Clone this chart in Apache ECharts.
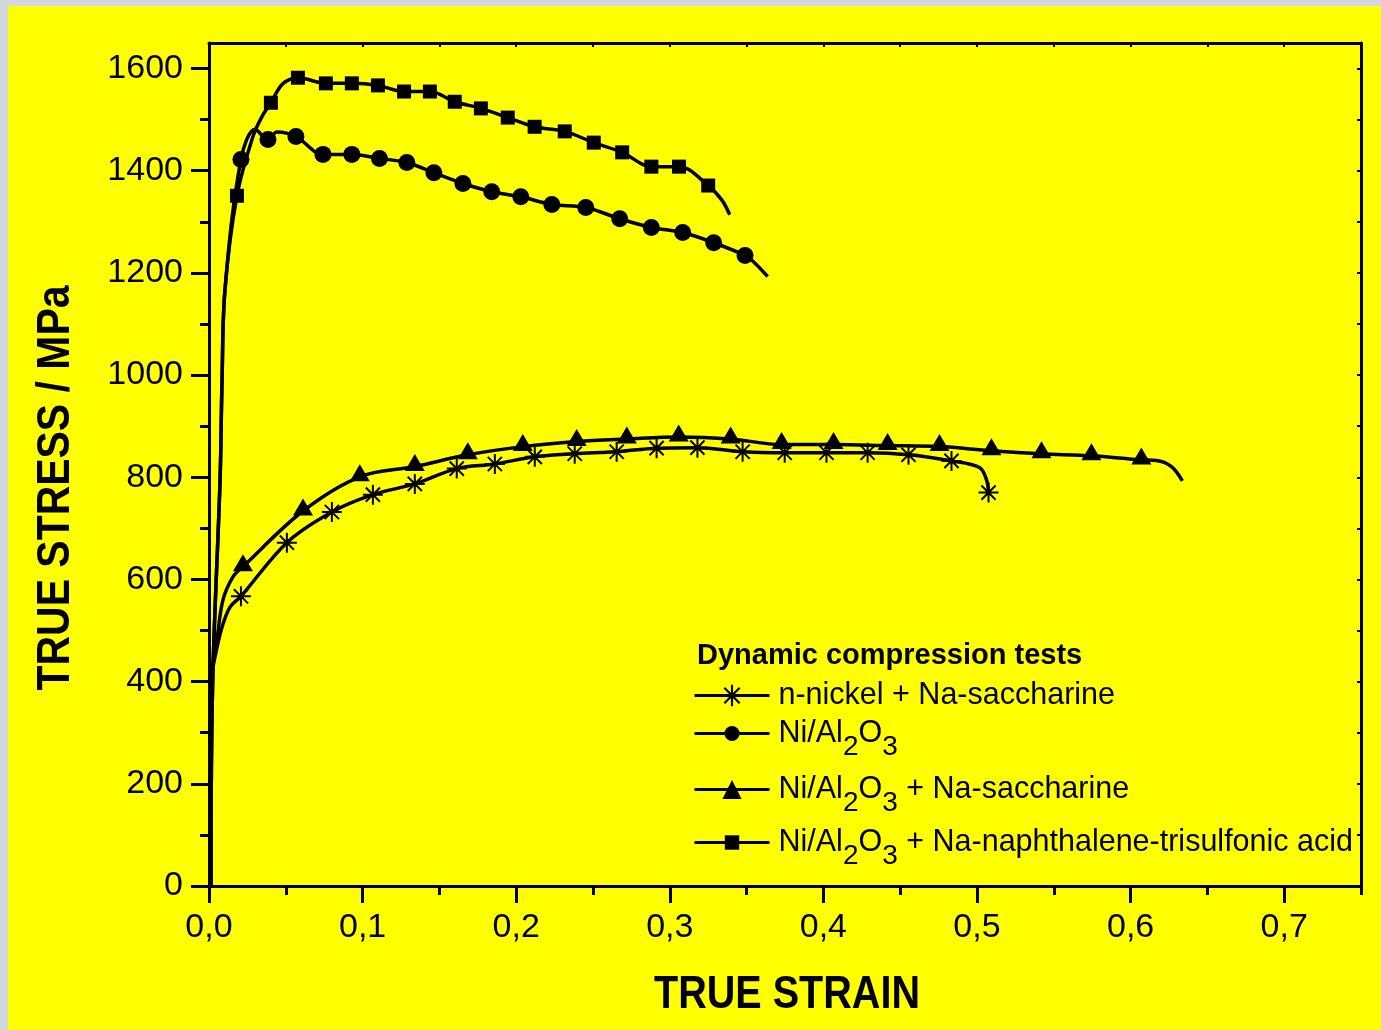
<!DOCTYPE html>
<html><head><meta charset="utf-8">
<style>
html,body{margin:0;padding:0;background:#d0d7df;width:1381px;height:1030px;overflow:hidden}
#c{position:absolute;left:8px;top:6px;width:1373px;height:1024px;background:#ffff00}
</style>
<script src="https://cdn.jsdelivr.net/npm/echarts@6/dist/echarts.min.js"></script>
</head><body><div id="c"></div>
<script>
// [strain, stress, marker(1) or curve-only(0)]
var nNickel = [
  [0.0012,0,0],[0.0013,200,0],[0.0015,403,0],[0.0039,448,0],[0.0085,507,0],[0.0137,546,0],
  [0.0208,567,1],[0.0507,672,1],[0.0800,732,1],[0.1067,766,1],[0.1340,787,1],[0.1613,817,1],
  [0.1861,826,1],[0.2121,840,1],[0.2381,846,1],[0.2654,850,1],[0.2914,857,1],[0.3180,858,1],
  [0.3474,850,1],[0.3748,848,1],[0.4020,848,1],[0.4288,848,1],[0.4554,844,1],[0.4834,832,1],
  [0.5016,819,0],[0.5062,795,0],[0.5075,770,1]
];
var niAl2O3 = [
  [0.0012,0,0],[0.0024,400,0],[0.0072,795,0],[0.0085,991,0],[0.0104,1167,0],
  [0.0208,1422,1],[0.0300,1481,0],[0.0384,1461,1],[0.0442,1476,0],[0.0566,1467,1],
  [0.0742,1432,1],[0.0930,1432,1],[0.1110,1424,1],[0.1288,1416,1],[0.1464,1396,1],
  [0.1653,1375,1],[0.1841,1359,1],[0.2030,1349,1],[0.2232,1334,1],[0.2453,1328,1],
  [0.2674,1306,1],[0.2880,1289,1],[0.3084,1279,1],[0.3286,1259,1],[0.3490,1234,1],
  [0.3551,1220,0],[0.3637,1193,0]
];
var niAl2O3Sacch = [
  [0.0012,0,0],[0.0013,200,0],[0.0015,403,0],[0.0052,482,0],[0.0091,560,0],[0.0156,605,0],
  [0.0221,625,1],[0.0612,734,1],[0.0982,801,1],[0.1340,821,1],[0.1685,844,1],[0.2043,860,1],
  [0.2394,870,1],[0.2720,875,1],[0.3058,879,1],[0.3396,875,1],[0.3728,864,1],[0.4066,864,1],
  [0.4418,862,1],[0.4756,860,1],[0.5094,852,1],[0.5420,846,1],[0.5745,842,1],[0.6070,834,1],
  [0.6168,833,0],[0.6266,821,0],[0.6337,793,0]
];
var niAl2O3Naph = [
  [0.0012,0,0],[0.0024,400,0],[0.0072,795,0],[0.0085,991,0],[0.0104,1167,0],
  [0.0182,1351,1],[0.0286,1467,0],[0.0345,1506,0],[0.0403,1533,1],[0.0480,1570,0],
  [0.0579,1582,1],[0.0761,1571,1],[0.0930,1571,1],[0.1100,1567,1],[0.1270,1555,1],
  [0.1438,1555,1],[0.1600,1535,1],[0.1770,1522,1],[0.1945,1504,1],[0.2120,1486,1],
  [0.2316,1477,1],[0.2505,1455,1],[0.2690,1436,1],[0.2880,1408,1],[0.3060,1408,1],
  [0.3250,1371,1],[0.3338,1343,0],[0.3390,1314,0]
];
var seriesNames = ['n-nickel + Na-saccharine','Ni/Al2O3','Ni/Al2O3 + Na-saccharine','Ni/Al2O3 + Na-naphthalene-trisulfonic acid'];
var xMajor = [0,0.1,0.2,0.3,0.4,0.5,0.6,0.7];
var xMinor = [0.05,0.15,0.25,0.35,0.45,0.55,0.65,0.75];
var yMajor = [0,200,400,600,800,1000,1200,1400,1600];
var yMinor = [100,300,500,700,900,1100,1300,1500];
var legendTitle = 'Dynamic compression tests';
var xTitle = 'TRUE STRAIN';
var yTitle = 'TRUE STRESS / MPa';

var FONT = 'Liberation Sans, Arial, Helvetica, sans-serif';
var ASTERISK = 'path://M45,0H55V100H45Z M0,45H100V55H0Z M11,18L18,11L89,82L82,89Z M82,11L89,18L18,89L11,82Z';
var symbols = [ASTERISK,'circle','triangle','rect'];
var symSizes = [20,17,[20,17],14];
var symOffsets = [[0,0],[0,0],[0,-4],[0,0]];
var curves = [nNickel, niAl2O3, niAl2O3Sacch, niAl2O3Naph];

function buildData(arr){
  return arr.map(function(p){
    return p[2] ? {value:[p[0],p[1]]} : {value:[p[0],p[1]], symbol:'none'};
  });
}

var series = curves.map(function(c,i){
  return {
    name: seriesNames[i], type:'line', xAxisIndex:0, yAxisIndex:0,
    data: buildData(c), smooth:0.35,
    symbol: symbols[i], symbolSize: symSizes[i], symbolOffset: symOffsets[i],
    showSymbol:true, showAllSymbol:true,
    lineStyle:{color:'#000', width:3.5},
    itemStyle:{color:'#000', borderWidth:0},
    emphasis:{disabled:true}, z: 3
  };
});

function legendLabel(name){
  if (name.indexOf('Al2O3') < 0) return '{m|' + name + '}';
  var rest = name.replace('Ni/Al2O3','');
  return '{m|Ni/Al}{s|2}{m|O}{s|3}' + (rest ? '{m|' + rest + '}' : '');
}
var legendTops = [674, 712, 768, 821];
var legendItemH = [27, 19, 24, 18];
var legends = seriesNames.map(function(n,i){
  return {
    data:[n], left:685, top:legendTops[i], orient:'vertical', padding:0,
    itemWidth:75, itemHeight:legendItemH[i], selectedMode:false,
    formatter: legendLabel,
    lineStyle:{width:3, color:'#000'},
    itemStyle:{color:'#000', borderWidth:0},
    textStyle:{color:'#000', fontFamily:FONT, fontSize:30.5, padding:[0,0,0,4],
      rich:{ m:{fontSize:30.5, fontFamily:FONT, color:'#000'},
             s:{fontSize:28, fontFamily:FONT, color:'#000', padding:[28,0,0,0]} }}
  };
});

var axisLineStyle = {color:'#000', width:3};
var fmtX = function(v){ return v.toFixed(1).replace('.',','); };
var fmtY = function(v){ return String(Math.round(v)); };

var option = {
  animation:false,
  backgroundColor:'transparent',
  grid:{left:201, right:20, top:37, bottom:144},
  xAxis:[
    {type:'value', min:0, max:0.75, position:'bottom',
     axisLine:{show:true, onZero:false, lineStyle:axisLineStyle},
     axisTick:{show:true, customValues:xMajor, length:17, lineStyle:{color:'#000', width:3}},
     axisLabel:{show:true, customValues:xMajor, formatter:fmtX, fontSize:34, margin:25, color:'#000', fontFamily:FONT},
     splitLine:{show:false}},
    {type:'value', min:0, max:0.75, position:'bottom',
     axisLine:{show:false, onZero:false},
     axisTick:{show:true, customValues:xMinor, length:9, lineStyle:{color:'#000', width:3}},
     axisLabel:{show:false}, splitLine:{show:false}},
    {type:'value', min:0, max:0.75, position:'top',
     axisLine:{show:true, onZero:false, lineStyle:axisLineStyle},
     axisTick:{show:true, inside:true, customValues:xMajor.concat(xMinor), length:4, lineStyle:{color:'#000', width:2}},
     axisLabel:{show:false}, splitLine:{show:false}}
  ],
  yAxis:[
    {type:'value', min:0, max:1650, position:'left',
     axisLine:{show:true, onZero:false, lineStyle:axisLineStyle},
     axisTick:{show:true, customValues:yMajor, length:18, lineStyle:{color:'#000', width:3}},
     axisLabel:{show:true, customValues:yMajor, formatter:fmtY, fontSize:34, margin:26, color:'#000', fontFamily:FONT},
     splitLine:{show:false}},
    {type:'value', min:0, max:1650, position:'left',
     axisLine:{show:false, onZero:false},
     axisTick:{show:true, customValues:yMinor, length:9, lineStyle:{color:'#000', width:3}},
     axisLabel:{show:false}, splitLine:{show:false}},
    {type:'value', min:0, max:1650, position:'right',
     axisLine:{show:true, onZero:false, lineStyle:axisLineStyle},
     axisTick:{show:true, inside:true, customValues:yMajor.concat(yMinor), length:4, lineStyle:{color:'#000', width:2}},
     axisLabel:{show:false}, splitLine:{show:false}}
  ],
  legend: legends,
  graphic:[
    {type:'text', x:689, y:650, style:{text:legendTitle, font:'bold 29px ' + FONT, fill:'#000', textAlign:'left', textVerticalAlign:'middle'}},
    {type:'text', x:779, y:989, scaleX:0.86, style:{text:xTitle, font:'bold 46px ' + FONT, fill:'#000', textAlign:'center', textVerticalAlign:'middle'}},
    {type:'text', x:48, y:482, rotation:Math.PI/2, scaleX:0.89, style:{text:yTitle, font:'bold 46px ' + FONT, fill:'#000', textAlign:'center', textVerticalAlign:'middle'}}
  ],
  series: series
};
var chart = echarts.init(document.getElementById('c'), null, {renderer:'canvas'});
chart.setOption(option);
</script>
</body></html>
